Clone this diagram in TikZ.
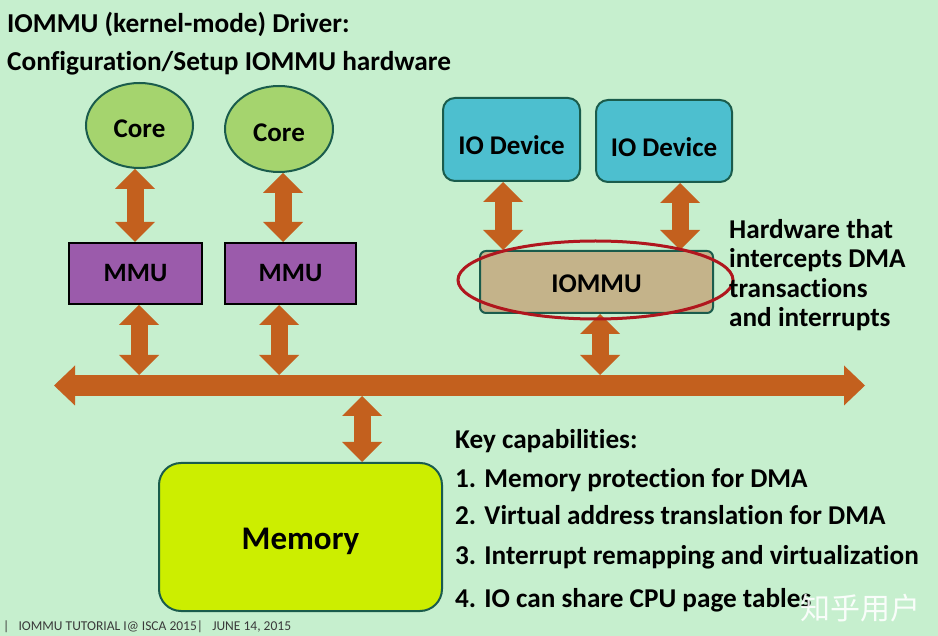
\documentclass[tikz,border=0pt]{standalone}
\usepackage{fontspec}
\setmainfont{Carlito}[Ligatures=NoCommon]
\newfontfamily\cjk{Noto Sans CJK SC}
\usetikzlibrary{arrows.meta,shapes.geometric}
\definecolor{bgc}{HTML}{C6EFCE}
\definecolor{orng}{HTML}{C3601E}
\definecolor{corefill}{HTML}{A5D46E}
\definecolor{darkedge}{HTML}{1A5C4C}
\definecolor{mmufill}{HTML}{9B5BAB}
\definecolor{iofill}{HTML}{4DBFCF}
\definecolor{iommufill}{HTML}{C4B38A}
\definecolor{ringred}{HTML}{B0161E}
\definecolor{memfill}{HTML}{CCEE00}
\definecolor{foot}{HTML}{3A3A3A}
\tikzset{
  lbl/.style={font=\bfseries\fontsize{27}{30}\selectfont, text=black},
  core/.style={ellipse, draw=darkedge, line width=2pt, fill=corefill, inner sep=0pt, lbl, text height=24.4pt, text depth=0pt},
  mmu/.style={rectangle, draw=black, line width=2pt, fill=mmufill, inner sep=0pt, font=\bfseries\fontsize{26.5}{30}\selectfont, minimum height=61pt},
  iodev/.style={rectangle, rounded corners=12pt, draw=darkedge, line width=2pt, fill=iofill, inner sep=0pt, lbl, text height=30.4pt, text depth=0pt},
  iommubox/.style={rectangle, rounded corners=6pt, draw=darkedge, line width=2pt, fill=iommufill, inner sep=0pt, lbl, text height=21.4pt, text depth=0pt},
  membox/.style={rectangle, rounded corners=22pt, draw=darkedge, line width=2pt, fill=memfill, inner sep=0pt, font=\bfseries\fontsize{33}{38}\selectfont, text height=25.2pt, text depth=0pt},
  redring/.style={ellipse, draw=ringred, line width=3pt, inner sep=0pt},
  dbl/.style={draw=orng, line width=17pt,
    {Triangle[width=40pt,length=20pt,line width=0pt]}-{Triangle[width=40pt,length=20pt,line width=0pt]}},
  busarrow/.style={draw=orng, line width=21pt,
    {Triangle[width=40pt,length=21pt,line width=0pt]}-{Triangle[width=40pt,length=21pt,line width=0pt]}},
  ttl/.style={anchor=base west, inner sep=0pt, font=\bfseries\fontsize{27.3}{30}\selectfont},
  body/.style={anchor=base west, inner sep=0pt, font=\bfseries\fontsize{27.2}{30}\selectfont},
}
\begin{document}
\begin{tikzpicture}[x=1pt,y=-1pt]
\fill[bgc] (0,0) rectangle (938,636);
\useasboundingbox (0,0) rectangle (938,636);

% titles
\node[ttl] (t1) at (7,33) {IOMMU (kernel-mode) Driver:};
\node[ttl] (t2) at (7,71) {Configuration/Setup IOMMU hardware};

% bus
\coordinate (busL) at (54,385.5);
\coordinate (busR) at (865,385.5);
\coordinate (bustop) at (0,375);
\coordinate (busbot) at (0,396);
\draw[busarrow] (busL) -- (busR);

% nodes
\node[core, minimum width=107pt, minimum height=85pt] (c1) at (139.5,125.5) {Core};
\node[core, minimum width=108pt, minimum height=86pt] (c2) at (279,129) {Core};
\node[mmu, minimum width=133pt] (m1) at (135.5,273.5) {MMU};
\node[mmu, minimum width=131pt] (m2) at (290.5,273.5) {MMU};
\node[iodev, minimum width=137pt, minimum height=83pt] (d1) at (511.5,139.5) {IO Device};
\node[iodev, minimum width=136pt, minimum height=82pt] (d2) at (664,141) {IO Device};
\node[iommubox, minimum width=233pt, minimum height=62pt] (io) at (596.5,282) {IOMMU};
\node[membox, minimum width=283pt, minimum height=148pt] (mem) at (300.5,537) {Memory};

% arrow columns
\coordinate (x1) at (135,0);
\coordinate (x2) at (283,0);
\coordinate (x3) at (139,0);
\coordinate (x4) at (279,0);
\coordinate (x5) at (503,0);
\coordinate (x6) at (680,0);
\coordinate (x7) at (600,0);
\coordinate (x8) at (362,0);

\draw[dbl] (x1 |- c1.south) -- (x1 |- m1.north);
\draw[dbl] (x2 |- c2.south) -- (x2 |- m2.north);
\draw[dbl] (x3 |- m1.south) -- (x3 |- bustop);
\draw[dbl] (x4 |- m2.south) -- (x4 |- bustop);
\draw[dbl] (x5 |- d1.south) -- (x5 |- io.north);
\draw[dbl] (x6 |- d2.south) -- (x6 |- io.north);
\draw[dbl] (x7 |- io.south) -- (x7 |- bustop);
\draw[dbl] (x8 |- busbot) -- (x8 |- mem.north);

% red ring
\node[redring, minimum width=275pt, minimum height=78pt] (ring) at (595.5,280) {};

% hardware text
\node[body] (h1) at (729,239) {Hardware that};
\node[body] (h2) at (729,268) {intercepts DMA};
\node[body] (h3) at (729,298) {transactions};
\node[body] (h4) at (729,327) {and interrupts};

% key capabilities
\node[body] (k0) at (455,449) {Key capabilities:};
\node[body] (k1) at (455,487) {1. Memory protection for DMA};
\node[body] (k2) at (455,524) {2. Virtual address translation for DMA};
\node[body] (k3) at (455,564) {3. Interrupt remapping and virtualization};
\node[body] (k4) at (455,607) {4. IO can share CPU page tables};

% footer
\node[anchor=base west, inner sep=0pt, text=foot, font=\fontsize{13.5}{15}\selectfont] (ft) at (3,630) {|\ \ \ IOMMU TUTORIAL I@ ISCA 2015|\ \ \ JUNE 14, 2015};

% watermark
\node[anchor=base west, inner sep=0pt, text=white, opacity=0.9, font=\cjk\fontsize{30}{34}\selectfont] (wm) at (800,619) {知乎用户};
\end{tikzpicture}
\end{document}
